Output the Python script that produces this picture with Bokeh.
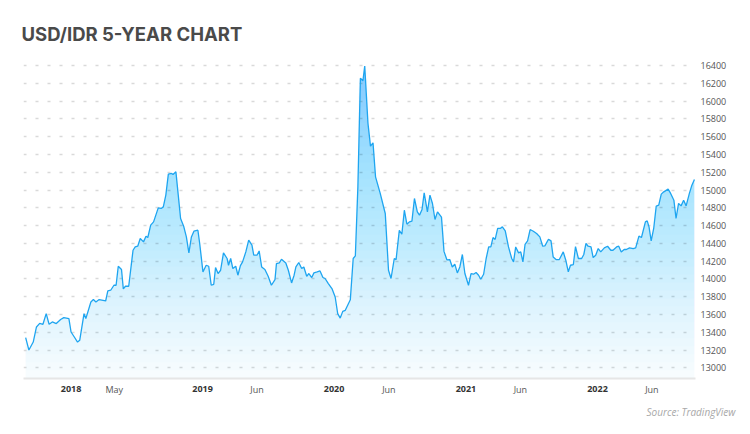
import numpy as np
import pandas as pd
from bokeh.plotting import figure
from bokeh.models import (ColumnDataSource, Range1d, FixedTicker, Title, DatetimeAxis,
                          CustomJSTickFormatter)
from bokeh.embed import file_html
from bokeh.resources import INLINE

# ---------------- data ----------------
dates = [
    "2017-08-28", "2017-09-06", "2017-09-18", "2017-09-27", "2017-10-06", "2017-10-15",
    "2017-10-24", "2017-11-01", "2017-11-10", "2017-11-21", "2017-12-03", "2017-12-12",
    "2017-12-26",
    "2018-01-01", "2018-01-10", "2018-01-19", "2018-01-25", "2018-02-06", "2018-02-11",
    "2018-02-25", "2018-03-04", "2018-03-11", "2018-03-20", "2018-04-07", "2018-04-13",
    "2018-04-21", "2018-04-30", "2018-05-06", "2018-05-12", "2018-05-21", "2018-05-26",
    "2018-06-01", "2018-06-10", "2018-06-22", "2018-06-28", "2018-07-05", "2018-07-12",
    "2018-07-21", "2018-07-28", "2018-08-02", "2018-08-10", "2018-08-18", "2018-08-31",
    "2018-09-08", "2018-09-14", "2018-09-21", "2018-09-28", "2018-10-07", "2018-10-11",
    "2018-10-19", "2018-10-25", "2018-11-01", "2018-11-10", "2018-11-17", "2018-11-24",
    "2018-12-01", "2018-12-08", "2018-12-19", "2018-12-24",
    "2019-01-02", "2019-01-11", "2019-01-18", "2019-01-25", "2019-02-01", "2019-02-06",
    "2019-02-13", "2019-02-20", "2019-02-28", "2019-03-10", "2019-03-14", "2019-03-20",
    "2019-03-26", "2019-04-03", "2019-04-09", "2019-04-16", "2019-04-22", "2019-05-01",
    "2019-05-09", "2019-05-18", "2019-05-23", "2019-06-01", "2019-06-07", "2019-06-14",
    "2019-06-23", "2019-07-02", "2019-07-11", "2019-07-21", "2019-07-25", "2019-08-02",
    "2019-08-08", "2019-08-20", "2019-08-27", "2019-09-05", "2019-09-12", "2019-09-17",
    "2019-09-25", "2019-10-03", "2019-10-09", "2019-10-17", "2019-10-23", "2019-10-31",
    "2019-11-06", "2019-11-15", "2019-11-23", "2019-12-01", "2019-12-07", "2019-12-16",
    "2019-12-26",
    "2020-01-04", "2020-01-11", "2020-01-18", "2020-01-25", "2020-02-01", "2020-02-15",
    "2020-02-23", "2020-02-29", "2020-03-07", "2020-03-14", "2020-03-21", "2020-03-26",
    "2020-04-04", "2020-04-11", "2020-04-18", "2020-04-25", "2020-05-08", "2020-05-22",
    "2020-05-31", "2020-06-07", "2020-06-16", "2020-06-21", "2020-06-30", "2020-07-07",
    "2020-07-14", "2020-07-21", "2020-07-28", "2020-08-04", "2020-08-11", "2020-08-19",
    "2020-08-25", "2020-09-01", "2020-09-07", "2020-09-16", "2020-09-23", "2020-09-30",
    "2020-10-07", "2020-10-14", "2020-10-25", "2020-11-01", "2020-11-09", "2020-11-17",
    "2020-11-24", "2020-12-01", "2020-12-08", "2020-12-15", "2020-12-22", "2020-12-29",
    "2021-01-08", "2021-01-15", "2021-01-22", "2021-01-29", "2021-02-05", "2021-02-11",
    "2021-02-19", "2021-02-26", "2021-03-05", "2021-03-11", "2021-03-17", "2021-03-23",
    "2021-03-30", "2021-04-06", "2021-04-12", "2021-04-20", "2021-04-29", "2021-05-08",
    "2021-05-13", "2021-05-19", "2021-05-27", "2021-06-02", "2021-06-08", "2021-06-14",
    "2021-06-21", "2021-06-28", "2021-07-07", "2021-07-16", "2021-07-25", "2021-08-02",
    "2021-08-08", "2021-08-18", "2021-08-25", "2021-08-31", "2021-09-08", "2021-09-17",
    "2021-09-28", "2021-10-05", "2021-10-12", "2021-10-18", "2021-10-26", "2021-11-01",
    "2021-11-09", "2021-11-18", "2021-11-24", "2021-11-30", "2021-12-06", "2021-12-14",
    "2021-12-20", "2021-12-27",
    "2022-01-03", "2022-01-10", "2022-01-20", "2022-01-29", "2022-02-07", "2022-02-13",
    "2022-02-23", "2022-03-01", "2022-03-08", "2022-03-16", "2022-03-22", "2022-03-31",
    "2022-04-10", "2022-04-17", "2022-04-26", "2022-05-03", "2022-05-14", "2022-05-19",
    "2022-05-24", "2022-05-30", "2022-06-06", "2022-06-13", "2022-06-20", "2022-06-27",
    "2022-07-04", "2022-07-16", "2022-07-23", "2022-08-01", "2022-08-07", "2022-08-14",
    "2022-08-21", "2022-08-28", "2022-09-04", "2022-09-13", "2022-09-20", "2022-09-27",
]

rates = [
    13340, 13200, 13290, 13460, 13500, 13490, 13610, 13490, 13516, 13498, 13543, 13565,
    13554,
    13403, 13347, 13290, 13310, 13610, 13554, 13741, 13768, 13741, 13768, 13752, 13865,
    13873, 13929, 13929, 14143, 14106, 13888, 13918, 13918, 14323, 14360, 14368, 14455,
    14417, 14481, 14466, 14605, 14642, 14800, 14793, 14811, 14943, 15180, 15187, 15176,
    15205, 14962, 14680, 14586, 14473, 14293, 14473, 14537, 14548, 14399,
    14079, 14154, 14143, 13929, 13940, 14128, 14061, 14098, 14293, 14230, 14154, 14230,
    14117, 14143, 14042, 14150, 14192, 14304, 14436, 14380, 14267, 14267, 14315, 14135,
    14106, 14030, 13929, 13993, 14173, 14180, 14222, 14180, 14098, 13955, 14042, 14135,
    14185, 14117, 14135, 14030, 14061, 14016, 14068, 14079, 14090, 14016, 14005, 13948,
    13892,
    13797, 13610, 13560, 13635, 13647, 13765, 14230, 14260, 15036, 16257, 16230, 16395,
    15750, 15494, 15532, 15149, 14962, 14736, 14098, 14005, 14230, 14218, 14548, 14503,
    14773, 14616, 14642, 14650, 14905, 14755, 14717, 14781, 14969, 14755, 14943, 14849,
    14669, 14755, 14695, 14310, 14215, 14218, 14135, 14166, 14068, 14135, 14275, 14061,
    13929, 14061, 14053, 14072, 14042, 13997, 14053, 14230, 14360, 14360, 14466, 14444,
    14568, 14568, 14586, 14541, 14360, 14230, 14192, 14360, 14293, 14304, 14192, 14390,
    14428, 14556, 14537, 14511, 14473, 14368, 14372, 14447, 14428, 14248, 14218, 14218,
    14304, 14211, 14079, 14154, 14162, 14364, 14230, 14230, 14275, 14399, 14368, 14360,
    14241, 14267,
    14342, 14304, 14349, 14368, 14323, 14323, 14360, 14368, 14304, 14331, 14331, 14349,
    14342, 14349, 14481, 14466, 14642, 14653, 14586, 14428, 14568, 14820, 14830, 14954,
    14980, 15011, 14962, 14886, 14680, 14849, 14822, 14886, 14822, 14962, 15055, 15120,
]

y_ticks = [13000, 13200, 13400, 13600, 13800, 14000, 14200, 14400, 14600, 14800,
           15000, 15200, 15400, 15600, 15800, 16000, 16200, 16400]
x_tick_dates = ["2018-01-01", "2018-05-01", "2019-01-01", "2019-06-01", "2020-01-01",
                "2020-06-01", "2021-01-01", "2021-06-01", "2022-01-01", "2022-06-01"]
x_tick_labels = ["2018", "May", "2019", "Jun", "2020", "Jun", "2021", "Jun", "2022", "Jun"]
title_text = "USD/IDR 5-YEAR CHART"
source_text = "Source: TradingView"

# ---------------- styling ----------------
LINE = "#1ea5f0"
FONT = "Open Sans"
LABEL_COLOR = "#555555"

x = pd.to_datetime(dates)
y = np.array(rates, dtype=float)
y_lo, y_hi = 12880, 16480
x_lo, x_hi = pd.Timestamp("2017-08-22"), pd.Timestamp("2022-09-30")

p = figure(width=750, height=434, x_axis_type="datetime", y_axis_location="right",
           x_range=Range1d(x_lo, x_hi), y_range=Range1d(y_lo, y_hi),
           output_backend="svg", toolbar_location=None,
           min_border_left=23, min_border_right=55, min_border_top=58,
           min_border_bottom=56)
p.outline_line_color = None
p.background_fill_color = "white"
p.border_fill_color = "white"

# gradient-like area fill: stacked translucent layers above increasing levels
n_layers = 40
levels = np.linspace(y_lo, y_hi, n_layers + 1)
prev_c = 0.0
for k in range(n_layers):
    mid = 0.5 * (levels[k] + levels[k + 1])
    c = 0.03 + 0.45 * (mid - y_lo) / 3420.0
    a = 1.0 - (1.0 - c) / (1.0 - prev_c)
    prev_c = c
    src = ColumnDataSource(dict(x=x, y1=np.full(len(y), levels[k]),
                                y2=np.maximum(y, levels[k])))
    p.varea(x="x", y1="y1", y2="y2", source=src, fill_color=LINE, fill_alpha=a)

p.line(x, y, line_color=LINE, line_width=1.3)

# y axis (right)
p.yaxis.ticker = FixedTicker(ticks=y_ticks)
p.yaxis.axis_line_color = None
p.yaxis.major_tick_line_color = None
p.yaxis.major_tick_out = 0
p.yaxis.major_tick_in = 0
p.yaxis.minor_tick_line_color = None
p.yaxis.major_label_text_font = FONT
p.yaxis.major_label_text_font_size = "9px"
p.yaxis.major_label_text_color = LABEL_COLOR
p.yaxis.major_label_standoff = 5

p.ygrid.grid_line_color = "#d9d9d9"
p.ygrid.grid_line_dash = "3 9"
p.ygrid.grid_line_width = 1.5
p.xgrid.visible = False

# x axis (bottom): month labels normal, year labels bold on an overlapping axis
tick_ms = [int(pd.Timestamp(d).value // 10**6) for d in x_tick_dates]
month_ms = [ms for ms, lab in zip(tick_ms, x_tick_labels) if not lab.isdigit()]
month_names = [lab for lab in x_tick_labels if not lab.isdigit()]
year_ms = [ms for ms, lab in zip(tick_ms, x_tick_labels) if lab.isdigit()]
year_names = [lab for lab in x_tick_labels if lab.isdigit()]

JS = "const i = tick_vals.indexOf(tick); return i >= 0 ? tick_names[i] : '';"
p.xaxis.ticker = FixedTicker(ticks=month_ms)
p.xaxis.formatter = CustomJSTickFormatter(
    args=dict(tick_vals=month_ms, tick_names=month_names), code=JS)
p.xaxis.axis_line_color = "#e6e6e6"
p.xaxis.axis_line_width = 2
p.xaxis.major_tick_line_color = None
p.xaxis.major_tick_out = 0
p.xaxis.major_tick_in = 0
p.xaxis.minor_tick_line_color = None
p.xaxis.major_label_text_font = FONT
p.xaxis.major_label_text_font_size = "9px"
p.xaxis.major_label_text_color = LABEL_COLOR
p.xaxis.major_label_standoff = 4

year_axis = DatetimeAxis(
    ticker=FixedTicker(ticks=year_ms),
    formatter=CustomJSTickFormatter(args=dict(tick_vals=year_ms, tick_names=year_names),
                                    code=JS),
    axis_line_color=None, major_tick_line_color=None, minor_tick_line_color=None,
    major_tick_out=0, major_tick_in=0,
    major_label_text_font=FONT, major_label_text_font_size="9px",
    major_label_text_font_style="bold", major_label_text_color="#333333",
    major_label_standoff=-13)
p.add_layout(year_axis, "below")

# title
p.title.text = title_text
p.title.text_font = "Inter"
p.title.text_font_size = "18.5px"
p.title.text_font_style = "bold"
p.title.text_color = "#4a4a4a"
p.title.offset = -2
p.title.vertical_align = "top"
p.title.standoff = 24

p.add_layout(Title(text=source_text, align="right", offset=-40, standoff=8,
                   text_font=FONT, text_font_size="10px", text_font_style="italic",
                   text_color="#a8a8a8"), "below")

open("out.html", "w").write(file_html(p, INLINE))
